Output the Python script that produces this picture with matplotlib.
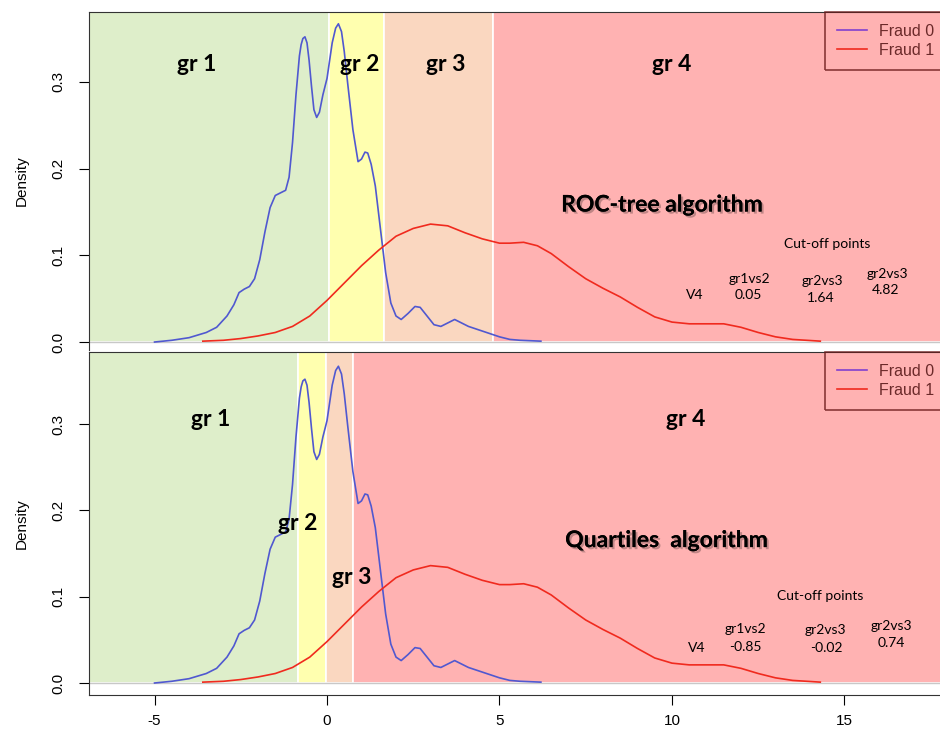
import matplotlib.pyplot as plt
import matplotlib.patheffects as pe

# density curves (same in both panels)
fraud0_x = [-5.0, -4.5, -4.0, -3.5, -3.2, -2.9, -2.7, -2.55, -2.4, -2.25, -2.1, -1.95, -1.8,
            -1.65, -1.5, -1.35, -1.2, -1.1, -1.0, -0.9, -0.8, -0.75, -0.7, -0.64, -0.58,
            -0.52, -0.45, -0.38, -0.3, -0.22, -0.12, 0.0, 0.15, 0.25, 0.33, 0.42, 0.5,
            0.6, 0.75, 0.9, 1.0, 1.1, 1.18, 1.28, 1.4, 1.55, 1.7, 1.85, 2.0, 2.15, 2.35,
            2.55, 2.7, 2.9, 3.1, 3.3, 3.5, 3.7, 3.9, 4.1, 4.4, 4.7, 5.0, 5.3, 5.6, 6.2]
fraud0_y = [0.0, 0.002, 0.005, 0.011, 0.017, 0.030, 0.043, 0.057, 0.061, 0.064, 0.073, 0.095,
            0.127, 0.155, 0.169, 0.172, 0.175, 0.190, 0.230, 0.285, 0.330, 0.343, 0.350,
            0.352, 0.345, 0.325, 0.295, 0.268, 0.259, 0.265, 0.285, 0.304, 0.345, 0.362,
            0.367, 0.358, 0.335, 0.298, 0.245, 0.208, 0.211, 0.219, 0.218, 0.205, 0.180,
            0.130, 0.080, 0.045, 0.030, 0.026, 0.033, 0.041, 0.040, 0.030, 0.020, 0.018,
            0.022, 0.026, 0.022, 0.018, 0.014, 0.010, 0.006, 0.003, 0.002, 0.001]

fraud1_x = [-3.6, -3.0, -2.5, -2.0, -1.5, -1.0, -0.5, 0.0, 0.5, 1.0, 1.5, 2.0, 2.5, 3.0,
            3.5, 4.0, 4.5, 5.0, 5.3, 5.7, 6.1, 6.5, 7.0, 7.5, 8.0, 8.5, 9.0, 9.5, 10.0,
            10.5, 11.0, 11.5, 12.0, 12.5, 13.0, 13.5, 14.3]
fraud1_y = [0.001, 0.002, 0.004, 0.007, 0.011, 0.018, 0.030, 0.048, 0.068, 0.088, 0.106,
            0.122, 0.131, 0.136, 0.134, 0.126, 0.119, 0.114, 0.114, 0.115, 0.111, 0.102,
            0.087, 0.073, 0.062, 0.052, 0.040, 0.029, 0.023, 0.021, 0.021, 0.021, 0.017,
            0.011, 0.006, 0.003, 0.001]

# cut-off points of the groups
roc_cuts = [0.05, 1.64, 4.82]
quart_cuts = [-0.85, -0.02, 0.74]
cut_names = ["gr1vs2", "gr2vs3", "gr2vs3"]

band_cols = ["#DEEECA", "#FFFFAF", "#FAD7C0", "#FFB2B2"]
xlo, xhi = -6.9, 18.35

fig = plt.figure(figsize=(9.4, 7.33), dpi=100)
ax1 = fig.add_axes([89 / 940, 1 - 350 / 733, 871 / 940, 338 / 733])
ax2 = fig.add_axes([89 / 940, 1 - 695 / 733, 871 / 940, 343 / 733])


def panel(ax, cuts, ylim):
    ax.set_xlim(xlo, xhi)
    ax.set_ylim(*ylim)
    edges = [xlo] + cuts + [xhi]
    for i in range(4):
        ax.fill_between([edges[i], edges[i + 1]], 0, ylim[1], color=band_cols[i],
                        edgecolor="white", linewidth=1.2, zorder=0)
    ax.axhline(0, color="#c8c8c8", lw=1, zorder=1)
    ax.plot(fraud0_x, fraud0_y, color="#5058d0", lw=1.2, zorder=3, label="Fraud 0")
    ax.plot(fraud1_x, fraud1_y, color="#f02a1e", lw=1.2, zorder=3, label="Fraud 1")
    ax.set_yticks([0.0, 0.1, 0.2, 0.3])
    ax.set_yticklabels(["0.0", "0.1", "0.2", "0.3"], rotation=90, va="center",
                       family="Liberation Sans", fontsize=11)
    ax.tick_params(axis="y", length=7, pad=10)
    ax.set_ylabel("Density", family="Liberation Sans", fontsize=11, labelpad=16)
    ax.spines["right"].set_visible(False)
    for s in ax.spines.values():
        s.set_color("#333333")
    leg = ax.legend(loc="upper left", bbox_to_anchor=(0.845, 1.0), borderaxespad=0,
                    frameon=True, fancybox=False, handlelength=1.9, handletextpad=0.7,
                    borderpad=0.75, labelspacing=0.25,
                    prop={"family": "Liberation Sans", "size": 11.5})
    leg.get_frame().set_edgecolor("#6b1a1a")
    leg.get_frame().set_facecolor("none")
    leg.get_frame().set_linewidth(1.2)
    for t in leg.get_texts():
        t.set_color("#6b2a2a")
    leg.get_lines()[0].set_color("#8040d0")


panel(ax1, roc_cuts, (-0.0092, 0.3806))
panel(ax2, quart_cuts, (-0.0139, 0.3835))

ax1.spines["bottom"].set_visible(False)
ax1.set_xticks([])
ax2.set_xticks([-5, 0, 5, 10, 15])
ax2.set_xticklabels(["-5", "0", "5", "10", "15"], family="Liberation Sans", fontsize=11)
ax2.tick_params(axis="x", length=7, pad=7)

big = dict(family="Lato", fontweight="bold", fontsize=16.5, ha="center", va="center")
shadow = [pe.withSimplePatchShadow(offset=(1.5, -1.5), alpha=0.25), pe.Normal()]
small = dict(family="Lato", fontsize=10, ha="center", va="center")

# top panel texts
ax1.text(-3.77, 0.32, "gr 1", **big)
ax1.text(0.96, 0.32, "gr 2", **big)
ax1.text(3.45, 0.32, "gr 3", **big)
ax1.text(10.0, 0.32, "gr 4", **big)
ax1.text(9.7, 0.158, "ROC-tree algorithm", path_effects=shadow, **big)
ax1.text(14.5, 0.113, "Cut-off points", **small)
ax1.text(10.67, 0.054, "V4", **small)
for xx, yy, nm, v in zip([12.25, 14.35, 16.25], [0.073, 0.070, 0.079], cut_names, roc_cuts):
    ax1.text(xx, yy, nm, **small)
    ax1.text(xx - 0.05, yy - 0.019, f"{v:.2f}", **small)

# bottom panel texts
ax2.text(-3.36, 0.305, "gr 1", **big)
ax2.text(-0.84, 0.185, "gr 2", **big)
ax2.text(0.72, 0.122, "gr 3", **big)
ax2.text(10.4, 0.305, "gr 4", **big)
ax2.text(9.83, 0.165, "Quartiles  algorithm", path_effects=shadow, **big)
ax2.text(14.3, 0.101, "Cut-off points", **small)
ax2.text(10.72, 0.041, "V4", **small)
for xx, yy, nm, v in zip([12.12, 14.46, 16.35], [0.062, 0.061, 0.066], cut_names, quart_cuts):
    ax2.text(xx, yy, nm, **small)
    ax2.text(xx + 0.02, yy - 0.020, f"{v:.2f}", **small)

fig.savefig("out.png", dpi=100)
